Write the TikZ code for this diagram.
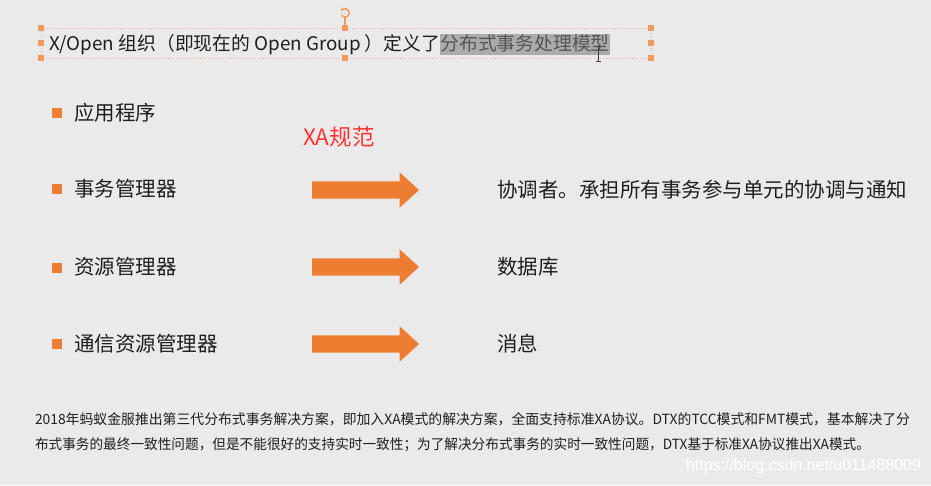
\documentclass[tikz,border=0pt]{standalone}
\usepackage{fontspec}
\newfontfamily\cjk{Noto Sans CJK SC}
\newfontfamily\wmfont{Liberation Sans}
\usetikzlibrary{shapes.arrows,arrows.meta}
\definecolor{bg}{HTML}{EAEAEA}
\definecolor{orng}{HTML}{ED7D31}
\definecolor{hdl}{HTML}{F09A5E}
\definecolor{selline}{HTML}{F2B08A}
\definecolor{txt}{HTML}{1E1E1E}
\definecolor{xared}{HTML}{FF3333}
\definecolor{hlbg}{HTML}{ABABAB}
\definecolor{hltxt}{HTML}{555555}
\begin{document}
\begin{tikzpicture}[x=1pt,y=-1pt,
  every node/.style={inner sep=0pt, outer sep=0pt},
  bullet/.style={fill=orng, minimum size=10pt},
  item/.style={anchor=west, text=txt, font=\cjk\fontsize{20.5}{24}\selectfont},
  arr/.style={single arrow, fill=orng, minimum height=107pt, inner xsep=0pt, inner ysep=8.5pt,
    text height=0pt, text depth=0pt, text width=0pt,
    single arrow head extend=9pt, single arrow tip angle=85, anchor=west},
  handle/.style={fill=hdl, minimum size=6.5pt},
  titlefont/.style={font=\cjk\fontsize{18.8}{22}\selectfont},
  small/.style={anchor=west, text=txt, font=\cjk\fontsize{14}{16}\selectfont},
]
\fill[bg] (0,0) rectangle (931,485);
\useasboundingbox (0,0) rectangle (931,485);

% selection frame of the title box
\draw[selline, dotted, line width=0.9pt] (41,28) rectangle (651,58);
\draw[hdl, line width=1.3pt] (345,17) -- (345,26);
\draw[hdl, line width=1.4pt, -{Stealth[length=3pt,width=4pt]}] (341.5,15) arc[start angle=150, end angle=-150, radius=4.2];
\node[handle] (h1) at (41,28) {};
\node[handle] (h2) at (345,28) {};
\node[handle] (h3) at (651,28) {};
\node[handle] (h4) at (41,43) {};
\node[handle] (h5) at (651,43) {};
\node[handle] (h6) at (41,58) {};
\node[handle] (h7) at (345,58) {};
\node[handle] (h8) at (651,58) {};

% title
\node[titlefont, text=txt, anchor=base west] (t1) at (49,50) {X/Open 组织（即现在的 Open Group ）定义了};
\node[titlefont, text=hltxt, fill=hlbg, anchor=base west, text height=15pt, text depth=3.5pt, inner ysep=1pt, inner xsep=0.5pt] (t2) at (t1.base east) {分布式事务处理模型};
% I-beam cursor
\draw[black!75, line width=0.7pt] (598,47) -- (598,61) (595.5,46.5) -- (600.5,46.5) (595.5,61.5) -- (600.5,61.5);

% bullets and items
\node[bullet] (b1) at (56.5,113) {};
\node[item] (i1) at (74,113) {应用程序};
\node[bullet] (b2) at (56.5,189) {};
\node[item] (i2) at (74,189) {事务管理器};
\node[bullet] (b3) at (56.5,268) {};
\node[item] (i3) at (74,267) {资源管理器};
\node[bullet] (b4) at (56.5,344) {};
\node[item] (i4) at (74,344) {通信资源管理器};

% XA label
\node[anchor=west, text=xared, font=\cjk\fontsize{22.5}{26}\selectfont] (xa) at (303,137) {XA规范};

% arrows
\node[arr] (a1) at (312,190) {};
\node[arr] (a2) at (312,267) {};
\node[arr] (a3) at (312,344) {};

% right-hand texts
\node[item] (r1) at (497,190) {协调者。承担所有事务参与单元的协调与通知};
\node[item] (r2) at (497,267) {数据库};
\node[item] (r3) at (497,344) {消息};

% bottom paragraph
\node[small] (p1) at (35,419) {\resizebox{875pt}{\height}{2018年蚂蚁金服推出第三代分布式事务解决方案，即加入XA模式的解决方案，全面支持标准XA协议。DTX的TCC模式和FMT模式，基本解决了分}};
\node[small] (p2) at (35,445) {\resizebox{835pt}{\height}{布式事务的最终一致性问题，但是不能很好的支持实时一致性；为了解决分布式事务的实时一致性问题，DTX基于标准XA协议推出XA模式。}};

% watermark
\node[anchor=west, text=white] (wm) at (686,466) {\resizebox{235pt}{!}{\wmfont\fontsize{15}{17}\selectfont https://blog.csdn.net/u011488009}};
\end{tikzpicture}
\end{document}
